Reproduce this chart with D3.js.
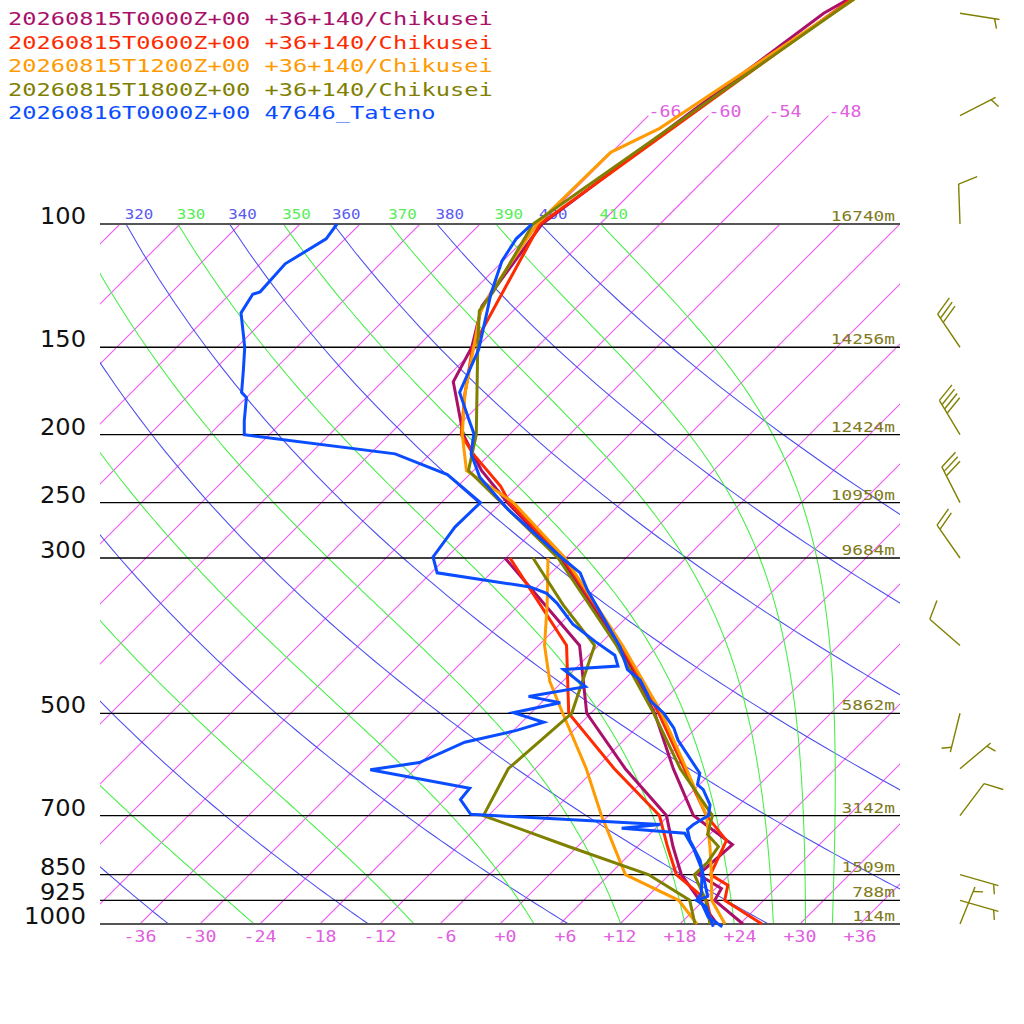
<!DOCTYPE html>
<html lang="en">
<head>
<meta charset="UTF-8">
<title>Skew-T 36N 140E Chikusei / 47646 Tateno</title>
<script src="https://d3js.org/d3.v7.min.js"></script>
<style>
  body { margin: 0; background: #fff; }
  svg { display: block; }
  text { font-family: "DejaVu Sans Mono", monospace; }
</style>
</head>
<body>
<svg id="chart" width="1024" height="1024"></svg>
<script>
// ---------- data ----------
const legendLabels = [
  "20260815T0000Z+00 +36+140/Chikusei",
  "20260815T0600Z+00 +36+140/Chikusei",
  "20260815T1200Z+00 +36+140/Chikusei",
  "20260815T1800Z+00 +36+140/Chikusei",
  "20260816T0000Z+00 47646_Tateno"
];
const colors = ["#aa0f6a", "#ff2a00", "#ff9a00", "#808000", "#0a4cff"];

// 0000Z forecast
const t00P = [1000, 925, 890, 850, 770, 700, 600, 500, 400, 300, 250, 225, 200, 168, 150, 131, 100, 70, 50, 30];
const t00T = [24.3, 19.1, 18.6, 14.9, 15.3, 8.5, 1.8, -5.6, -15.9, -30.6, -41.4, -47.2, -52.6, -58.9, -60.5, -63.6, -65.8, -62.2, -58.7, -47];
const d00P = [1000, 925, 850, 775, 700, 600, 500, 400, 300];
const d00D = [21.7, 17.6, 13.2, 9.55, 5.8, -3.0, -12.4, -19.9, -36.1];

// 0600Z forecast
const t06P = [1000, 925, 880, 850, 760, 700, 600, 500, 400, 300, 250, 237, 213, 200, 175, 150, 100, 50, 30];
const t06T = [26.2, 20.1, 18.9, 16.1, 14.3, 9.8, 2.9, -5.2, -15.7, -30.3, -41.2, -43.7, -49.7, -52.8, -56.5, -60.4, -66.0, -57.9, -51.9];
const d06P = [1000, 925, 850, 775, 700, 600, 500, 400, 300];
const d06D = [21.2, 18.3, 12.7, 9.0, 5.1, -4.1, -14.2, -21.2, -35.6];

// 1200Z forecast
const t12P = [1000, 925, 850, 775, 700, 600, 500, 400, 300, 250, 225, 200, 175, 150, 134, 125, 100, 79, 73, 50, 30];
const t12T = [22.5, 18.8, 16.2, 13.25, 9.8, 3.1, -4.9, -15.6, -30.1, -40.8, -48.7, -52.7, -56.5, -60.3, -63.1, -64.1, -66.3, -66.1, -63.6, -57.8, -49.9];
const d12P = [1000, 925, 850, 700, 600, 500, 450, 400, 350, 300];
const d12D = [19.7, 15.5, 7.6, -0.7, -6.9, -14.8, -19.3, -23.4, -27.2, -31.8];

// 1800Z forecast
const t18P = [1000, 925, 850, 818, 775, 745, 700, 600, 500, 400, 300, 225, 200, 150, 133, 125, 100, 50, 30];
const t18T = [21.0, 18.2, 14.5, 14.6, 14.1, 11.8, 10.4, 2.5, -5.7, -16.2, -30.8, -48.5, -51.3, -59.9, -63.4, -63.9, -66.7, -57.7, -51.0];
const d18P = [1000, 925, 850, 775, 700, 600, 500, 400, 350, 300];
const d18D = [19.5, 16.6, 9.9, -0.9, -12.5, -14.7, -13.9, -18.4, -25.6, -33.3];

// Tateno sounding
const tTaP = [1009, 977, 934, 925, 905, 837, 810, 759, 733, 721, 700, 676, 643, 632, 609, 590, 546, 525, 500, 479, 468, 448, 433, 402, 372, 333, 315, 300, 256, 230, 213, 199, 191, 174, 151, 133, 126, 113, 105, 100];
const tTaT = [22.5, 20.1, 18.1, 17.3, 17.1, 14.8, 13.6, 10.6, 9.3, 9.4, 10.0, 9.1, 6.9, 5.8, 4.9, 3.3, -0.6, -2.2, -4.7, -7.4, -8.4, -10.4, -12.7, -15.7, -19.4, -24.7, -27.1, -30.4, -40.6, -46.7, -49.9, -51.7, -53.4, -57.2, -59.6, -62.6, -63.9, -66.1, -66.9, -66.8];
const dTaP = [1009, 945, 925, 913, 837, 780, 742, 730, 721, 697, 664, 640, 602, 588, 550, 529, 515, 499, 483, 473, 458, 433, 428, 413, 395, 373, 348, 337, 330, 315, 299, 271, 250, 228, 213, 200, 191, 177, 174, 162, 150, 134, 126, 125, 114, 105, 100];
const dTaD = [21.6, 18.9, 17.3, 18.0, 14.8, 11.8, 9.4, 2.6, 6.1, -13.9, -16.4, -16.6, -28.4, -24.2, -21.7, -17.7, -15.8, -19.8, -16.1, -19.9, -15.2, -19.1, -14.0, -15.4, -18.7, -22.7, -26.4, -28.4, -30.7, -41.4, -43.4, -44.2, -44.1, -50.2, -57.5, -74.5, -75.9, -78.0, -79.0, -81.0, -83.2, -87.0, -87.7, -87.2, -87.5, -85.9, -86.3];

// wind barbs (1800Z)
const windP = [50, 70, 100, 150, 200, 250, 300, 400, 500, 600, 700, 850, 925, 1000];
const windDir = [99, 63, 358, 326, 329, 333, 325, 311, 194, 50, 37, 106, 106, 22];
const windKt = [5, 5, 10, 30, 40, 30, 20, 10, 5, 5, 10, 5, 5, 5];

// isobars and their heights
const isobars = [100, 150, 200, 250, 300, 500, 700, 850, 925, 1000];
const heights = ["16740m", "14256m", "12424m", "10950m", "9684m", "5862m", "3142m", "1509m", "788m", "114m"];

const isotherms = d3.range(-120, 37, 6);
const isothermTicks = d3.range(-36, 37, 6);
const topIsotherms = [-66, -60, -54, -48];
const dryThetas = d3.range(240, 401, 20);
const moistThetas = d3.range(250, 411, 20);

// ---------- scales ----------
const svg = d3.select("#chart");
const yP = d3.scaleLog().domain([100, 1000]).range([224, 924]);
const xT = d3.scaleLinear().domain([-40, 40]).range([100, 900]);
const skewX = (t, p) => xT(t) + (yP(1000) - yP(p));

const defs = svg.append("defs");
defs.append("clipPath").attr("id", "box")
  .append("rect").attr("x", 100).attr("y", 224).attr("width", 800).attr("height", 700);
defs.append("clipPath").attr("id", "lab")
  .append("rect").attr("x", 100).attr("y", 190).attr("width", 800).attr("height", 40);

const line = d3.line().x(d => skewX(d[1], d[0])).y(d => yP(d[0]));

// ---------- thermodynamics for background lines ----------
const Rd = 287.04, Cp = 1005.7, Lv = 2.501e6, EPS = 0.622;
function satMix(tk, p) {
  const tc = tk - 273.15;
  const e = 6.112 * Math.exp(17.67 * tc / (tc + 243.5));
  return EPS * e / (p - e);
}
function thetaE(tk, p) {
  const r = satMix(tk, p), rg = r * 1000;
  return tk * Math.pow(1000 / p, 0.2854 * (1 - 0.28 * r)) *
    Math.exp((3.376 / tk - 0.00254) * rg * (1 + 0.00081 * rg));
}
function lapse(tk, p) {
  const r = satMix(tk, p);
  return (Rd * tk + Lv * r) / (p * (Cp + Lv * Lv * r * EPS / (Rd * tk * tk)));
}
function moistPath(te) {
  let lo = 200, hi = 340;
  for (let i = 0; i < 60; i++) {
    const m = (lo + hi) / 2;
    if (thetaE(m, 1000) < te) lo = m; else hi = m;
  }
  let tk = (lo + hi) / 2, p = 1000;
  const pts = [[p, tk - 273.15]];
  const dp = -5;
  while (p > 100.001) {
    const k1 = lapse(tk, p);
    const k2 = lapse(tk + k1 * dp / 2, p + dp / 2);
    tk += k2 * dp; p += dp;
    pts.push([p, tk - 273.15]);
  }
  return pts;
}
const presSteps = d3.range(1000, 99, -10);
function dryPath(th) {
  return presSteps.map(p => [p, th * Math.pow(p / 1000, 0.2857) - 273.15]);
}

// ---------- grid ----------
const isoColor = "rgb(240,90,245)";
const grid = svg.append("g").attr("clip-path", "url(#box)");
grid.selectAll("path.isotherm").data(isotherms).join("path")
  .attr("class", "isotherm")
  .attr("d", t => line([[1000, t], [100, t]]))
  .attr("fill", "none")
  .style("stroke", isoColor).style("stroke-width", "1.1px");

grid.selectAll("path.dry").data(dryThetas).join("path")
  .attr("class", "dry")
  .attr("d", th => line(dryPath(th)))
  .attr("fill", "none").attr("stroke", "#4c4cf0").attr("stroke-width", 1.05);

const moistLines = moistThetas.map(te => ({te, pts: moistPath(te)}));
grid.selectAll("path.moist").data(moistLines).join("path")
  .attr("class", "moist")
  .attr("d", d => line(d.pts))
  .attr("fill", "none").attr("stroke", "#44ee44").attr("stroke-width", 1.05);

// isotherms continued above 100 hPa with labels
svg.selectAll("path.isotop").data(topIsotherms).join("path")
  .attr("class", "isotop")
  .attr("d", t => line([[100, t], [70, t]]))
  .attr("fill", "none")
  .style("stroke", isoColor).style("stroke-width", "1.1px");
svg.selectAll("text.isotoplab").data(topIsotherms).join("text")
  .attr("class", "isotoplab")
  .attr("x", t => skewX(t, 70)).attr("y", yP(70) + 1.5)
  .attr("font-size", 15).attr("fill", "#e060e0")
  .attr("textLength", 33).attr("lengthAdjust", "spacingAndGlyphs")
  .text(t => String(t));

// theta labels along 100 hPa
const thetaLab = svg.append("g").attr("clip-path", "url(#lab)");
dryThetas.forEach(th => {
  const x = skewX(th * Math.pow(0.1, 0.2857) - 273.15, 100);
  if (x + 13 < 86) return;
  thetaLab.append("text").attr("x", x + 13).attr("y", 218.5)
    .attr("text-anchor", "middle").attr("font-size", 14.5).attr("fill", "#5a5af0")
    .attr("textLength", 28.5).attr("lengthAdjust", "spacingAndGlyphs").text(th);
});
moistLines.forEach(d => {
  const last = d.pts[d.pts.length - 1];
  const x = skewX(last[1], 100);
  if (x + 13 < 86) return;
  thetaLab.append("text").attr("x", x + 13).attr("y", 218.5)
    .attr("text-anchor", "middle").attr("font-size", 14.5).attr("fill", "#55ee55")
    .attr("textLength", 28.5).attr("lengthAdjust", "spacingAndGlyphs").text(d.te);
});

// isobars
svg.selectAll("line.isobar").data(isobars).join("line")
  .attr("class", "isobar")
  .attr("x1", 100).attr("x2", 900)
  .attr("y1", p => yP(p)).attr("y2", p => yP(p))
  .attr("stroke", p => (p === 100 || p === 1000) ? "#555" : "#000")
  .attr("stroke-width", p => (p === 100 || p === 1000) ? 1.8 : 1.3);

svg.selectAll("text.plab").data(isobars).join("text")
  .attr("class", "plab")
  .attr("x", 86).attr("y", p => yP(p))
  .attr("text-anchor", "end").attr("font-size", 23)
  .style("font-family", "'DejaVu Sans', sans-serif").attr("fill", "#111")
  .attr("textLength", p => String(p).length * 16 - 2).attr("lengthAdjust", "spacingAndGlyphs")
  .text(p => p);

svg.selectAll("text.hlab").data(isobars).join("text")
  .attr("class", "hlab")
  .attr("x", 895).attr("y", p => yP(p) - 3)
  .attr("text-anchor", "end").attr("font-size", 14).attr("fill", "#807a20")
  .attr("textLength", (p, i) => heights[i].length * 10.7).attr("lengthAdjust", "spacingAndGlyphs")
  .text((p, i) => heights[i]);

// temperature ticks along the bottom
const tickText = t => t > 0 ? "+" + t : t === 0 ? "+0" : String(t);
svg.selectAll("text.tlab").data(isothermTicks).join("text")
  .attr("class", "tlab")
  .attr("x", t => xT(t) + 16.5).attr("y", 942)
  .attr("text-anchor", "end").attr("font-size", 15).attr("fill", "#e060e0")
  .attr("textLength", t => tickText(t).length * 11)
  .attr("lengthAdjust", "spacingAndGlyphs")
  .text(tickText);

// ---------- profiles ----------
const profiles = [
  {c: colors[0], t: d3.zip(t00P, t00T), d: d3.zip(d00P, d00D)},
  {c: colors[1], t: d3.zip(t06P, t06T), d: d3.zip(d06P, d06D)},
  {c: colors[2], t: d3.zip(t12P, t12T), d: d3.zip(d12P, d12D)},
  {c: colors[3], t: d3.zip(t18P, t18T), d: d3.zip(d18P, d18D)},
  {c: colors[4], t: d3.zip(tTaP, tTaT), d: d3.zip(dTaP, dTaD)}
];
const prof = svg.append("g");
profiles.forEach(pr => {
  [pr.d, pr.t].forEach(series => {
    prof.append("path").attr("d", line(series))
      .attr("fill", "none").attr("stroke", pr.c).attr("stroke-width", 3);
  });
});

// ---------- wind barbs ----------
const barbs = svg.append("g").attr("stroke", "#808000").attr("stroke-width", 1.4)
  .attr("fill", "none").attr("stroke-linecap", "butt");
windP.forEach((p, i) => {
  const x0 = 960, y0 = yP(p);
  const a = windDir[i] * Math.PI / 180;
  const ux = Math.sin(a), uy = -Math.cos(a);
  const L = 40;
  barbs.append("line").attr("x1", x0).attr("y1", y0)
    .attr("x2", x0 + ux * L).attr("y2", y0 + uy * L);
  const r = 70 * Math.PI / 180;
  const fx = ux * Math.cos(r) - uy * Math.sin(r);
  const fy = ux * Math.sin(r) + uy * Math.cos(r);
  const full = Math.floor(windKt[i] / 10);
  const half = windKt[i] % 10 >= 5;
  let pos = 0;
  for (let k = 0; k < full; k++, pos++) {
    const sx = x0 + ux * (L - pos * 5), sy = y0 + uy * (L - pos * 5);
    barbs.append("line").attr("x1", sx).attr("y1", sy)
      .attr("x2", sx + fx * 20).attr("y2", sy + fy * 20);
  }
  if (half) {
    if (full === 0) pos = 1;
    const sx = x0 + ux * (L - pos * 5), sy = y0 + uy * (L - pos * 5);
    barbs.append("line").attr("x1", sx).attr("y1", sy)
      .attr("x2", sx + fx * 10).attr("y2", sy + fy * 10);
  }
});

// ---------- legend ----------
svg.selectAll("text.leg").data(legendLabels).join("text")
  .attr("class", "leg")
  .attr("x", 8).attr("y", (d, i) => 25 + i * 23.5)
  .attr("font-size", 17).attr("fill", (d, i) => colors[i])
  .attr("textLength", d => d.length * 14.27 - 0.5).attr("lengthAdjust", "spacingAndGlyphs")
  .text(d => d);
</script>
</body>
</html>
